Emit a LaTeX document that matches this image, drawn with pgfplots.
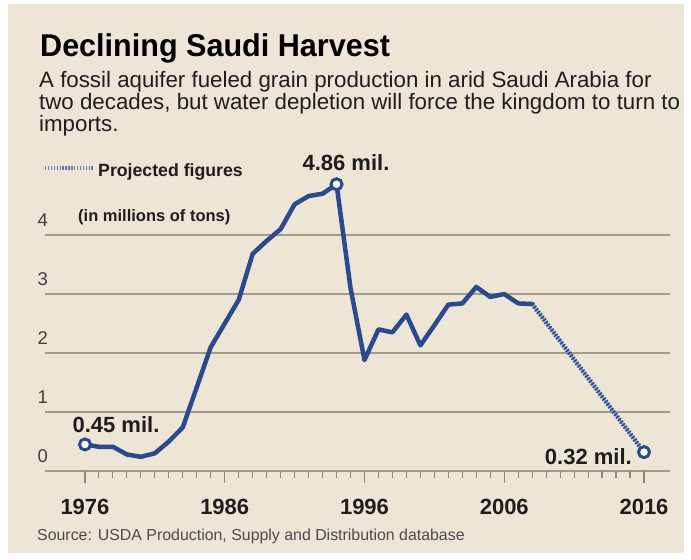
\documentclass[border=0pt]{standalone}
\usepackage{fontspec}
\setmainfont{Liberation Sans}
\newfontfamily\titlef{Liberation Sans}[FakeStretch=0.97]
\usepackage{pgfplots}
\pgfplotsset{compat=1.18}
\definecolor{bg}{HTML}{EDE5D6}
\definecolor{navy}{HTML}{2B4A8D}
\definecolor{navylight}{HTML}{8E9FC2}
\definecolor{gridc}{HTML}{A29B8B}
\definecolor{tickc}{HTML}{8E887C}
\definecolor{txt}{HTML}{1E1E1E}
\pgfplotstableread{
year value
1976 0.45
1977 0.41
1978 0.41
1979 0.28
1980 0.24
1981 0.30
1982 0.50
1983 0.74
1984 1.42
1985 2.10
1986 2.50
1987 2.90
1988 3.68
1989 3.90
1990 4.10
1991 4.52
1992 4.66
1993 4.70
1994 4.86
1995 3.10
1996 1.88
1997 2.40
1998 2.35
1999 2.65
2000 2.13
2001 2.47
2002 2.82
2003 2.84
2004 3.12
2005 2.95
2006 3.00
2007 2.84
2008 2.83
}\actual
\pgfplotstableread{
year value
2008 2.83
2016 0.32
}\projected
\pgfplotstableread{
year value
1976 0.45
1994 4.86
2016 0.32
}\marked
\begin{document}
\begin{tikzpicture}[x=1bp,y=1bp]
\fill[white] (0,0) rectangle (691,560);
\fill[bg] (8,7) rectangle (684,556);
\begin{axis}[at={(45bp,89bp)}, anchor=south west, scale only axis,
  width=625bp, height=295bp,
  xmin=1973.14, xmax=2017.86, ymin=0, ymax=5, clip=false,
  axis line style={draw=none},
  ytick={0,1,2,3,4}, ymajorgrids,
  major grid style={gridc, line width=2bp},
  ytick style={draw=none},
  yticklabel style={font=\fontsize{18.5bp}{18bp}\selectfont, text=txt!85, anchor=base west, xshift=1bp, yshift=8.5bp},
  xtick={1976,1986,...,2016}, minor xtick={1977,...,2015},
  xtick pos=left, tick align=outside,
  major tick length=12bp, minor tick length=7bp,
  xtick style={draw=tickc, line width=1.1bp},
  minor x tick style={draw=tickc, line width=1.1bp},
  xticklabel style={font=\bfseries\fontsize{22bp}{22bp}\selectfont, text=txt, anchor=base, yshift=-32bp},
  /pgf/number format/1000 sep={},
  /pgf/number format/assume math mode=true,
]
\addplot[navy, line width=4.5bp, line join=round, line cap=round] table[x=year, y=value] {\actual};
\addplot[navylight, line width=2bp] table[x=year, y=value] {\projected};
\addplot[navy, line width=4.5bp, dash pattern=on 1.6bp off 1.6bp] table[x=year, y=value] {\projected};
\addplot[only marks, mark=*, mark size=5.5bp, mark options={fill=white, draw=navy, line width=3bp}] table[x=year, y=value] {\marked};
\end{axis}
% texts
\node[anchor=base west, inner sep=0, text=black] at (40,503) {\titlef\bfseries\fontsize{31.5bp}{31bp}\selectfont Declining Saudi Harvest};
\node[anchor=base west, inner sep=0, text=txt] at (39,472) {\fontsize{22.3bp}{22bp}\selectfont A fossil aquifer fueled grain production in arid Saudi Arabia for};
\node[anchor=base west, inner sep=0, text=txt] at (39,450) {\fontsize{22.3bp}{22bp}\selectfont two decades, but water depletion will force the kingdom to turn to};
\node[anchor=base west, inner sep=0, text=txt] at (39,428) {\fontsize{22.3bp}{22bp}\selectfont imports.};
\draw[navy!75!white, line width=4.5bp, dash pattern=on 1.4bp off 1.5bp] (45,392) -- (93,392);
\node[anchor=base west, inner sep=0, text=txt] at (98,383.3) {\bfseries\fontsize{17.7bp}{18bp}\selectfont Projected figures};
\node[anchor=base west, inner sep=0, text=txt] at (78,338) {\bfseries\fontsize{16.5bp}{17bp}\selectfont (in millions of tons)};
\node[anchor=base, inner sep=0, text=txt] at (346,389.3) {\bfseries\fontsize{22bp}{22bp}\selectfont 4.86 mil.};
\node[anchor=base, inner sep=0, text=txt] at (116,127) {\bfseries\fontsize{22bp}{22bp}\selectfont 0.45 mil.};
\node[anchor=base east, inner sep=0, text=txt] at (632,95) {\bfseries\fontsize{22bp}{22bp}\selectfont 0.32 mil.};
\node[anchor=base west, inner sep=0, text=txt!80] at (37,19) {\fontsize{15.9bp}{16bp}\selectfont Source: USDA Production, Supply and Distribution database};
\end{tikzpicture}
\end{document}
